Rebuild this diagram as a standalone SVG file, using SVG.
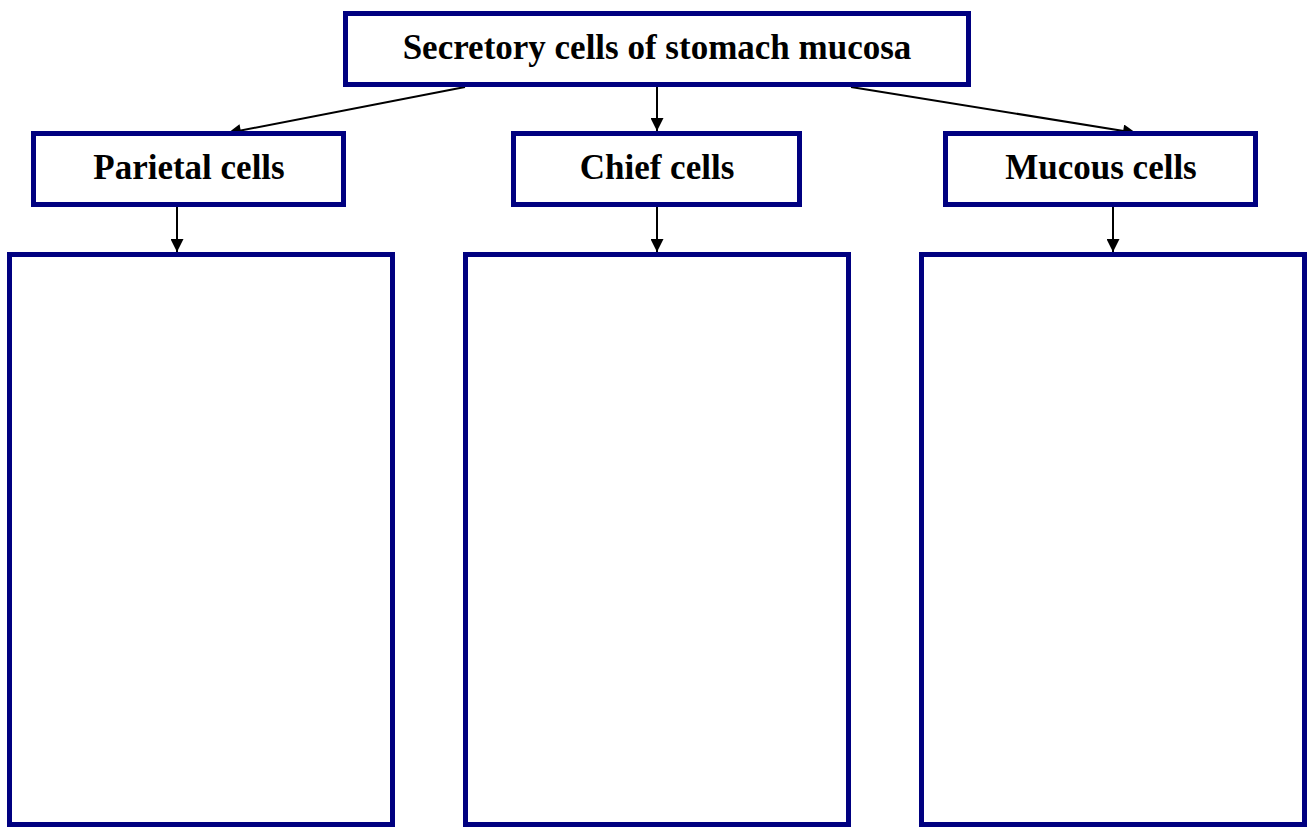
<svg xmlns="http://www.w3.org/2000/svg" width="1311" height="828" viewBox="0 0 1311 828">
  <defs>
    <marker id="arrow" viewBox="0 0 10 10" refX="10" refY="5" markerWidth="14" markerHeight="13" markerUnits="userSpaceOnUse" orient="auto">
      <path d="M0,0 L10,5 L0,10 z" fill="#000"/>
    </marker>
    <style>
      .box { fill: #fff; stroke: #000080; stroke-width: 5; }
      .label { font-family: "Liberation Serif", "Times New Roman", serif; font-weight: bold; font-size: 35px; fill: #000; text-anchor: middle; }
      .conn { stroke: #000; stroke-width: 2; fill: none; marker-end: url(#arrow); }
    </style>
  </defs>
  <rect width="1311" height="828" fill="#fff"/>

  <g id="connectors">
    <line class="conn" x1="465" y1="87" x2="228" y2="133"/>
    <line class="conn" x1="657" y1="87" x2="657" y2="131"/>
    <line class="conn" x1="851" y1="87" x2="1136" y2="133"/>
    <line class="conn" x1="177" y1="207" x2="177" y2="252"/>
    <line class="conn" x1="657" y1="207" x2="657" y2="252"/>
    <line class="conn" x1="1113" y1="207" x2="1113" y2="252"/>
  </g>

  <g id="secretory-cells">
    <rect class="box" x="345.5" y="13.5" width="623" height="71"/>
    <text class="label" x="657" y="59">Secretory cells of stomach mucosa</text>
  </g>
  <g id="parietal-cells">
    <rect class="box" x="33.5" y="133.5" width="310" height="71"/>
    <text class="label" x="189" y="179">Parietal cells</text>
  </g>
  <g id="chief-cells">
    <rect class="box" x="513.5" y="133.5" width="286" height="71"/>
    <text class="label" x="657" y="179">Chief cells</text>
  </g>
  <g id="mucous-cells">
    <rect class="box" x="945.5" y="133.5" width="310" height="71"/>
    <text class="label" x="1101" y="179">Mucous cells</text>
  </g>
  <g id="parietal-details">
    <rect class="box" x="9.5" y="254.5" width="383" height="570"/>
  </g>
  <g id="chief-details">
    <rect class="box" x="465.5" y="254.5" width="383" height="570"/>
  </g>
  <g id="mucous-details">
    <rect class="box" x="921.5" y="254.5" width="383" height="570"/>
  </g>
</svg>
